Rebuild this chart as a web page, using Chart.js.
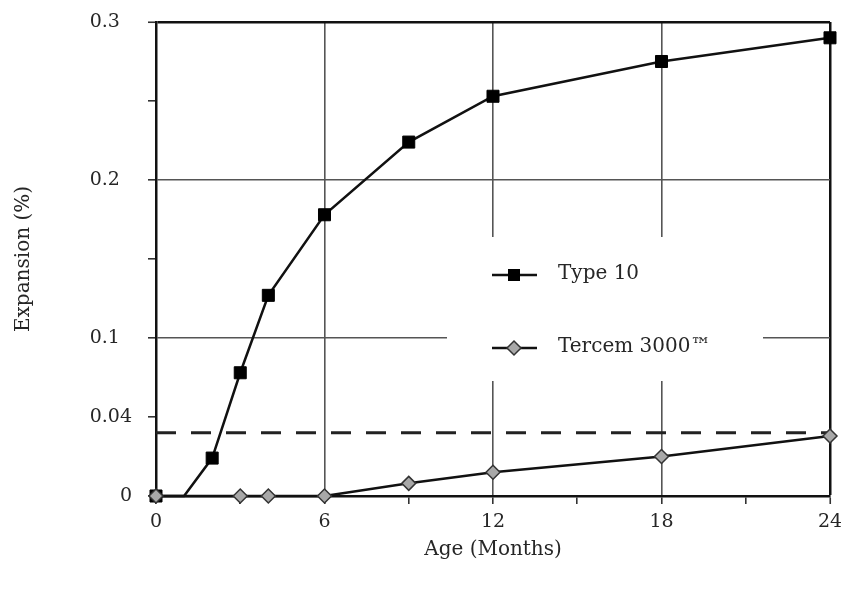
<!DOCTYPE html>
<html>
<head>
    <meta charset="UTF-8">
    <title>expansionChart</title>
    <script src="https://cdn.jsdelivr.net/npm/chart.js"></script>
    <style>
        html, body { margin: 0; padding: 0; background: #fff; }
        #wrap { width: 841px; height: 594px; }
    </style>
</head>
<body>
    <div id="wrap">
        <canvas id="expansionChart" width="841" height="594"></canvas>
    </div>

    <script>
        // data
        var type10Months = [0, 1, 2, 3, 4, 6, 9, 12, 18, 24];
        var type10Values = [0, 0, 0.024, 0.078, 0.127, 0.178, 0.224, 0.253, 0.275, 0.290];
        var tercemMonths = [0, 3, 4, 6, 9, 12, 18, 24];
        var tercemValues = [0, 0, 0, 0, 0.008, 0.015, 0.025, 0.038];
        var limitValue = 0.04;

        var xTickValues = [0, 3, 6, 9, 12, 15, 18, 21, 24];
        var xTickLabels = ['0', '', '6', '', '12', '', '18', '', '24'];
        var yTickValues = [0, 0.05, 0.1, 0.15, 0.2, 0.25, 0.3];
        var yTickLabels = ['0', '0.04', '0.1  ', '', '0.2  ', '', '0.3  '];

        var seriesNames = ['Type 10', 'Tercem 3000\u2122'];

        function toPoints(xs, ys) {
            var pts = [];
            for (var i = 0; i < xs.length; i++) {
                pts.push({ x: xs[i], y: ys[i] });
            }
            return pts;
        }

        var serif = 'DejaVu Serif';
        var textColor = '#262626';

        // white legend box drawn over the grid, inside the plot
        var legendBox = {
            id: 'legendBox',
            beforeDatasetsDraw: function (chart) {
                var ctx = chart.ctx;
                ctx.save();
                ctx.fillStyle = '#fff';
                ctx.fillRect(447, 237, 316, 144);

                ctx.strokeStyle = '#111';
                ctx.lineWidth = 2.5;
                ctx.beginPath();
                ctx.moveTo(492, 275); ctx.lineTo(537, 275);
                ctx.moveTo(492, 348); ctx.lineTo(537, 348);
                ctx.stroke();

                ctx.fillStyle = '#000';
                ctx.fillRect(508, 269, 12, 12);

                ctx.fillStyle = '#a8a8a8';
                ctx.strokeStyle = '#333';
                ctx.lineWidth = 1.5;
                ctx.beginPath();
                ctx.moveTo(507, 348); ctx.lineTo(514, 341);
                ctx.lineTo(521, 348); ctx.lineTo(514, 355);
                ctx.closePath();
                ctx.fill();
                ctx.stroke();

                ctx.fillStyle = textColor;
                ctx.font = '20px "' + serif + '"';
                ctx.textBaseline = 'middle';
                ctx.textAlign = 'left';
                ctx.fillText(seriesNames[0], 558, 274);
                ctx.fillText(seriesNames[1], 558, 347);
                ctx.restore();
            }
        };

        function createExpansionChart() {
            var ctx = document.getElementById('expansionChart').getContext('2d');
            var chart = new Chart(ctx, {
                type: 'line',
                data: {
                    datasets: [{
                        label: seriesNames[1],
                        data: toPoints(tercemMonths, tercemValues),
                        borderColor: '#111',
                        borderWidth: 2.5,
                        pointStyle: 'rectRot',
                        pointRadius: 7,
                        pointBackgroundColor: '#a8a8a8',
                        pointBorderColor: '#333',
                        pointBorderWidth: 1.5,
                        clip: false
                    }, {
                        label: seriesNames[0],
                        data: toPoints(type10Months, type10Values),
                        borderColor: '#111',
                        borderWidth: 2.5,
                        pointStyle: 'rect',
                        pointRadius: type10Months.map(function (m) { return m === 1 ? 0 : 8.5; }),
                        pointBackgroundColor: '#000',
                        pointBorderColor: '#000',
                        pointBorderWidth: 1,
                        clip: false
                    }, {
                        label: 'limit',
                        data: toPoints([0, 24], [limitValue, limitValue]),
                        borderColor: '#222',
                        borderWidth: 3,
                        borderDash: [20, 15],
                        pointRadius: 0,
                        clip: false
                    }]
                },
                options: {
                    responsive: false,
                    animation: false,
                    layout: {
                        padding: { top: 22, right: 11, bottom: 0, left: 0 }
                    },
                    plugins: {
                        legend: { display: false },
                        tooltip: { enabled: false }
                    },
                    scales: {
                        x: {
                            type: 'linear',
                            min: 0,
                            max: 24,
                            afterFit: function (scale) {
                                scale.height = 98;
                                scale.paddingLeft = 0;
                                scale.paddingRight = 0;
                            },
                            afterBuildTicks: function (scale) {
                                scale.ticks = xTickValues.map(function (v) { return { value: v }; });
                            },
                            border: { color: '#111', width: 2.5 },
                            grid: {
                                tickLength: 8,
                                color: function (c) {
                                    var v = c.tick ? c.tick.value : null;
                                    if (v === 24) return '#111';
                                    if (v === 6 || v === 12 || v === 18) return '#555';
                                    return 'rgba(0,0,0,0)';
                                },
                                lineWidth: function (c) {
                                    return c.tick && c.tick.value === 24 ? 2.5 : 1.6;
                                },
                                tickColor: '#333',
                                tickWidth: 1.6
                            },
                            ticks: {
                                autoSkip: false,
                                maxRotation: 0,
                                padding: 7,
                                color: textColor,
                                font: { family: serif, size: 19 },
                                callback: function (value, index) { return xTickLabels[index]; }
                            },
                            title: {
                                display: true,
                                text: 'Age (Months)',
                                color: textColor,
                                font: { family: serif, size: 20 },
                                padding: { top: 0, bottom: 32 }
                            }
                        },
                        y: {
                            min: 0,
                            max: 0.3,
                            afterFit: function (scale) {
                                scale.width = 156;
                                scale.paddingTop = 0;
                                scale.paddingBottom = 0;
                            },
                            afterBuildTicks: function (scale) {
                                scale.ticks = yTickValues.map(function (v) { return { value: v }; });
                            },
                            border: { color: '#111', width: 2.5 },
                            grid: {
                                tickLength: 8,
                                color: function (c) {
                                    var v = c.tick ? c.tick.value : null;
                                    if (v === 0.3) return '#111';
                                    if (v === 0.1 || v === 0.2) return '#555';
                                    return 'rgba(0,0,0,0)';
                                },
                                lineWidth: function (c) {
                                    return c.tick && c.tick.value === 0.3 ? 2.5 : 1.6;
                                },
                                tickColor: '#333',
                                tickWidth: 1.6
                            },
                            ticks: {
                                autoSkip: false,
                                padding: 16,
                                color: textColor,
                                font: { family: serif, size: 19 },
                                callback: function (value, index) { return yTickLabels[index]; }
                            },
                            title: {
                                display: true,
                                text: 'Expansion (%)',
                                color: textColor,
                                font: { family: serif, size: 20 },
                                padding: { top: 12, bottom: 0 }
                            }
                        }
                    }
                },
                plugins: [legendBox]
            });
        }
        createExpansionChart();
    </script>
</body>
</html>
